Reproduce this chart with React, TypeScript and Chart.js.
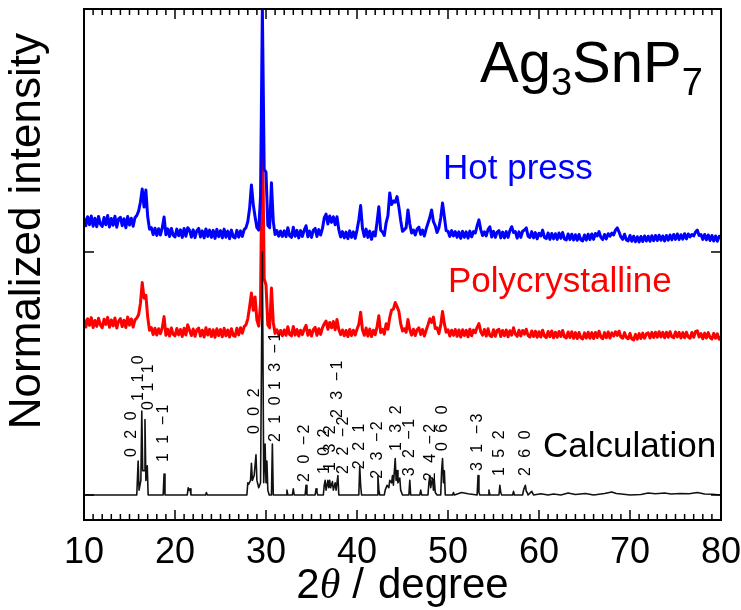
import React, { useEffect, useRef } from 'react';
import { Chart, registerables } from 'chart.js';

Chart.register(...registerables);

// ---- scan grid (2θ, degree) ----
const SCAN_START = 10;
const SCAN_STEP = 0.2;
const SCAN_COUNT = 351;
const twoTheta: number[] = Array.from({ length: SCAN_COUNT }, (_, i) => Math.round((SCAN_START + i * SCAN_STEP) * 10) / 10);

// ---- stacking offsets (normalized units) ----
const RED_OFFSET = 0.56;
const BLUE_OFFSET = 1.0;

// ---- Polycrystalline (normalized intensity, 10.0 → 80.0 step 0.2) ----
const polyIntensity: number[] = [
  0.162,0.131,0.165,0.138,0.170,0.129,0.158,0.134,0.167,0.140,
  0.128,0.163,0.142,0.171,0.130,0.160,0.136,0.168,0.127,0.155,
  0.166,0.133,0.159,0.129,0.172,0.139,0.164,0.131,0.161,0.168,
  0.182,0.228,0.314,0.250,0.262,0.172,0.118,0.129,0.100,0.126,
  0.098,0.124,0.104,0.128,0.174,0.097,0.122,0.094,0.127,0.101,
  0.095,0.125,0.099,0.121,0.092,0.126,0.098,0.140,0.118,0.096,
  0.123,0.093,0.120,0.127,0.094,0.118,0.090,0.128,0.098,0.122,
  0.092,0.120,0.089,0.124,0.096,0.121,0.091,0.126,0.095,0.119,
  0.090,0.124,0.097,0.093,0.126,0.099,0.128,0.106,0.133,0.140,
  0.165,0.215,0.271,0.200,0.255,0.160,0.135,0.230,1.000,0.330,
  0.304,0.140,0.128,0.292,0.150,0.105,0.120,0.098,0.117,0.095,
  0.119,0.097,0.132,0.100,0.095,0.133,0.098,0.121,0.094,0.118,
  0.100,0.122,0.138,0.097,0.118,0.094,0.120,0.130,0.097,0.124,
  0.101,0.128,0.144,0.156,0.122,0.150,0.128,0.154,0.120,0.162,
  0.121,0.100,0.119,0.095,0.117,0.092,0.121,0.096,0.118,0.098,
  0.122,0.142,0.192,0.120,0.097,0.127,0.094,0.123,0.092,0.118,
  0.100,0.132,0.178,0.108,0.122,0.102,0.145,0.122,0.170,0.202,
  0.205,0.232,0.215,0.196,0.145,0.115,0.124,0.110,0.162,0.120,
  0.098,0.122,0.096,0.120,0.128,0.100,0.121,0.094,0.118,0.140,
  0.165,0.150,0.172,0.125,0.128,0.104,0.138,0.195,0.145,0.110,
  0.120,0.094,0.118,0.097,0.121,0.093,0.119,0.090,0.120,0.096,
  0.118,0.091,0.122,0.095,0.119,0.108,0.130,0.145,0.112,0.098,
  0.121,0.094,0.124,0.096,0.091,0.120,0.093,0.118,0.122,0.092,
  0.117,0.095,0.119,0.091,0.116,0.098,0.128,0.102,0.093,0.118,
  0.094,0.117,0.102,0.122,0.096,0.090,0.115,0.092,0.114,0.089,
  0.112,0.090,0.118,0.094,0.088,0.113,0.091,0.115,0.087,0.110,
  0.089,0.113,0.092,0.117,0.091,0.086,0.111,0.088,0.112,0.085,
  0.108,0.084,0.109,0.087,0.082,0.107,0.086,0.110,0.085,0.108,
  0.084,0.109,0.088,0.114,0.090,0.083,0.108,0.087,0.111,0.086,
  0.107,0.094,0.112,0.097,0.114,0.090,0.085,0.108,0.088,0.083,
  0.105,0.082,0.078,0.101,0.081,0.104,0.084,0.106,0.085,0.103,
  0.107,0.086,0.109,0.088,0.110,0.089,0.112,0.090,0.109,0.087,
  0.110,0.089,0.112,0.091,0.087,0.111,0.090,0.109,0.086,0.108,
  0.087,0.110,0.090,0.085,0.109,0.089,0.112,0.116,0.090,0.104,
  0.083,0.106,0.086,0.108,0.088,0.082,0.105,0.085,0.103,0.081,
  0.090,
];

// ---- Hot press (normalized intensity, 10.0 → 80.0 step 0.2) ----
const hotPressIntensity: number[] = [
  0.140,0.108,0.145,0.112,0.148,0.106,0.139,0.104,0.146,0.115,
  0.105,0.142,0.112,0.150,0.103,0.138,0.110,0.147,0.102,0.136,
  0.143,0.108,0.137,0.100,0.146,0.111,0.139,0.106,0.141,0.150,
  0.168,0.205,0.259,0.185,0.255,0.145,0.094,0.100,0.072,0.098,
  0.068,0.096,0.070,0.099,0.144,0.071,0.095,0.064,0.097,0.069,
  0.062,0.094,0.067,0.091,0.060,0.097,0.065,0.100,0.090,0.061,
  0.091,0.059,0.088,0.097,0.062,0.087,0.058,0.095,0.064,0.090,
  0.060,0.089,0.056,0.093,0.063,0.088,0.058,0.094,0.061,0.086,
  0.055,0.090,0.062,0.058,0.089,0.061,0.087,0.064,0.092,0.100,
  0.125,0.180,0.276,0.195,0.145,0.100,0.090,0.230,1.000,0.340,
  0.329,0.110,0.100,0.285,0.125,0.072,0.088,0.065,0.086,0.064,
  0.087,0.063,0.100,0.066,0.060,0.102,0.065,0.089,0.058,0.088,
  0.064,0.090,0.108,0.063,0.086,0.060,0.089,0.097,0.064,0.092,
  0.070,0.096,0.140,0.156,0.115,0.148,0.122,0.145,0.112,0.145,
  0.092,0.062,0.084,0.058,0.082,0.055,0.087,0.060,0.083,0.056,
  0.090,0.132,0.191,0.098,0.064,0.094,0.060,0.086,0.052,0.082,
  0.066,0.122,0.186,0.090,0.082,0.068,0.120,0.150,0.243,0.195,
  0.210,0.205,0.228,0.185,0.130,0.085,0.092,0.100,0.173,0.115,
  0.078,0.090,0.070,0.094,0.102,0.072,0.090,0.066,0.095,0.118,
  0.142,0.173,0.125,0.108,0.080,0.100,0.140,0.202,0.145,0.088,
  0.085,0.064,0.088,0.066,0.084,0.060,0.083,0.056,0.085,0.060,
  0.083,0.057,0.086,0.062,0.084,0.078,0.108,0.132,0.092,0.068,
  0.083,0.066,0.092,0.104,0.062,0.085,0.060,0.082,0.088,0.058,
  0.082,0.058,0.084,0.060,0.088,0.104,0.080,0.084,0.057,0.083,
  0.060,0.085,0.090,0.099,0.065,0.060,0.084,0.058,0.080,0.054,
  0.077,0.066,0.090,0.060,0.055,0.078,0.052,0.076,0.054,0.075,
  0.052,0.078,0.056,0.080,0.053,0.050,0.074,0.051,0.073,0.049,
  0.071,0.048,0.072,0.050,0.046,0.070,0.049,0.073,0.051,0.074,
  0.052,0.076,0.066,0.084,0.060,0.051,0.072,0.054,0.075,0.065,
  0.078,0.070,0.090,0.099,0.082,0.062,0.052,0.073,0.050,0.046,
  0.068,0.044,0.065,0.042,0.063,0.041,0.064,0.043,0.066,0.045,
  0.065,0.044,0.067,0.046,0.068,0.047,0.069,0.048,0.066,0.045,
  0.068,0.048,0.070,0.050,0.072,0.052,0.074,0.051,0.071,0.053,
  0.075,0.054,0.074,0.062,0.072,0.066,0.082,0.090,0.068,0.072,
  0.052,0.072,0.050,0.070,0.047,0.068,0.045,0.066,0.044,0.065,
  0.058,
];

// ---- Calculated pattern: 2θ and intensity ----
const calcAngle: number[] = [
  10, 15.8, 15.95, 16.05, 16.25, 16.35, 16.45, 16.6, 16.7, 16.8, 16.95, 17.05,
  18.7, 18.8, 18.9, 21.35, 21.45, 21.55, 21.65, 21.75, 23.35, 23.45, 23.55,
  27.9, 28.0, 28.1, 28.3, 28.4, 28.5, 28.7, 28.9, 29.0, 29.2, 29.4, 29.6, 29.75, 29.9, 30.0, 30.1, 30.2, 30.35,
  30.6, 30.7, 30.8, 32.2, 32.3, 32.4, 32.9, 33.0, 33.1, 34.3, 34.4, 34.5, 35.4, 35.5, 35.6, 35.7,
  36.3, 36.4, 36.5, 36.6, 36.8, 36.9, 37.0, 37.1, 37.3, 37.4, 37.6, 37.7, 37.9, 38.0,
  40.2, 40.3, 40.4, 40.5, 42.2, 42.3, 42.4, 42.5,
  43.0, 43.1, 43.3, 43.5, 43.6, 43.8, 43.9, 44.0, 44.2, 44.3, 44.4, 44.5, 44.7, 44.8, 45.0,
  45.7, 45.8, 45.9, 46.9, 47.0, 47.1, 47.8, 47.9, 48.0, 48.1, 48.3, 48.4, 48.5, 48.6, 48.8,
  49.2, 49.3, 49.4, 49.5, 49.6, 49.7, 50.5, 50.6, 50.7, 51.5, 52.2, 53.2, 53.3, 53.4, 53.5,
  54.4, 54.5, 54.6, 55.6, 55.7, 55.8, 55.9, 57.1, 57.2, 57.3, 58.2, 58.3, 58.5, 58.6, 58.7, 58.8,
  59.2, 59.4, 60.2, 61.0, 61.6, 62.4, 63.2, 64.0, 65.1, 66.0, 67.2, 68.0, 68.5, 69.3, 70.0,
  71.2, 72.0, 72.8, 73.8, 74.5, 75.5, 76.5, 77.4, 78.2, 79.0, 80.0,
];
const calcIntensity: number[] = [
  0, 0, 0.14, 0.02, 0.06, 0.345, 0.10, 0.10, 0.31, 0.06, 0.12, 0,
  0, 0.086, 0, 0, 0.03, 0.02, 0.025, 0, 0, 0.01, 0,
  0, 0.05, 0.045, 0.06, 0.13, 0.06, 0.08, 0.165, 0.06, 0.03, 0.05, 1.0, 0.05, 0.21, 0.05, 0.14, 0.02, 0,
  0, 0.21, 0, 0, 0.02, 0, 0, 0.025, 0, 0, 0.04, 0, 0, 0.025, 0.01, 0,
  0, 0.04, 0.06, 0.02, 0.06, 0.03, 0.06, 0.03, 0.055, 0.02, 0.05, 0.02, 0.08, 0,
  0, 0.117, 0.04, 0, 0, 0.078, 0.02, 0,
  0, 0.02, 0.04, 0.03, 0.06, 0.05, 0.08, 0.04, 0.15, 0.06, 0.10, 0.05, 0.07, 0.02, 0,
  0, 0.06, 0, 0, 0.02, 0, 0, 0.05, 0.08, 0.03, 0.07, 0.02, 0.06, 0.01, 0,
  0, 0.10, 0.15, 0.05, 0.10, 0, 0, 0.01, 0, 0.01, 0.005, 0, 0.08, 0.01, 0,
  0, 0.02, 0, 0, 0.04, 0.01, 0, 0, 0.015, 0, 0, 0.02, 0.04, 0.015, 0.01, 0,
  0.015, 0, 0.005, 0, 0.004, 0, 0.008, 0.002, 0.006, 0, 0.006, 0.012, 0.006, 0.003, 0,
  0.002, 0.008, 0.005, 0.008, 0.004, 0.006, 0.005, 0.01, 0.004, 0.003, 0,
];

// ---- Miller-index labels of the calculated pattern ----
const hklText: string[] = [
  '0 2 0', '1 1 0', '0 1 1', '1 1 −1', '0 0 2', '2 1 0', '1 3 −1', '2 0 −2',
  '1 0 2', '1 3 2', '2 3 −1', '2 2 −2', '2 2 1', '2 3 −2', '1 3 2', '3 2 −1',
  '2 4 −2', '0 6 0', '3 1 −3', '1 5 2', '2 6 0',
];
const hklAngle: number[] = [
  15.24, 15.97, 17.07, 18.79, 28.79, 31.0, 31.0, 34.29,
  36.48, 37.14, 37.85, 38.5, 40.33, 42.31, 44.3, 45.82,
  48.1, 49.38, 53.2, 55.7, 58.57,
];
const hklLevel: number[] = [
  0.255, 0.486, 0.449, 0.259, 0.35, 0.317, 0.555, 0.177,
  0.185, 0.198, 0.44, 0.21, 0.205, 0.19, 0.28, 0.20,
  0.18, 0.28, 0.222, 0.177, 0.177,
];

// ---- axis ticks ----
const X_MIN = 10;
const X_MAX = 80;
const X_MAJOR = [10, 20, 30, 40, 50, 60, 70, 80];
const X_TICK_LABELS = ['10', '20', '30', '40', '50', '60', '70', '80'];
const Y_MIN = -0.103;
const Y_MAX = 2.0;
const Y_TICKS = [0, 1, 2];

const SANS = '"Liberation Sans", Arial, sans-serif';

const decorPlugin = {
  id: 'decor',
  afterDatasetsDraw(chart: any) {
    const { ctx, chartArea: a, scales } = chart;
    const x = scales.x;
    const y = scales.y;
    ctx.save();
    ctx.strokeStyle = '#000';
    const line = (x1: number, y1: number, x2: number, y2: number) => {
      ctx.beginPath();
      ctx.moveTo(x1, y1);
      ctx.lineTo(x2, y2);
      ctx.stroke();
    };
    // ticks (inside)
    ctx.lineWidth = 1.5;
    for (let v = X_MIN; v <= X_MAX; v += 1) {
      const px = x.getPixelForValue(v);
      const len = X_MAJOR.includes(v) ? 10 : 6;
      line(px, a.bottom, px, a.bottom - len);
      line(px, a.top, px, a.top + len);
    }
    for (const v of Y_TICKS) {
      const py = y.getPixelForValue(v);
      line(a.left, py, a.left + 10, py);
      line(a.right, py, a.right - 10, py);
    }
    // frame
    ctx.lineWidth = 2;
    ctx.strokeRect(a.left, a.top, a.right - a.left, a.bottom - a.top);

    // x tick labels
    ctx.fillStyle = '#000';
    ctx.font = `36px ${SANS}`;
    ctx.textAlign = 'center';
    ctx.textBaseline = 'alphabetic';
    X_MAJOR.forEach((v, i) => {
      ctx.fillText(X_TICK_LABELS[i], x.getPixelForValue(v), a.bottom + 43);
    });

    // hkl labels
    ctx.font = `16px ${SANS}`;
    (ctx as any).letterSpacing = '2.5px';
    ctx.textAlign = 'center';
    ctx.textBaseline = 'middle';
    hklText.forEach((t, i) => {
      const px = x.getPixelForValue(hklAngle[i]);
      const py = y.getPixelForValue(hklLevel[i]);
      ctx.save();
      ctx.translate(px, py);
      ctx.rotate(-Math.PI / 2);
      ctx.fillText(t, 0, 0);
      ctx.restore();
    });
    (ctx as any).letterSpacing = '0px';

    // series names
    ctx.textAlign = 'left';
    ctx.textBaseline = 'alphabetic';
    ctx.font = `35px ${SANS}`;
    ctx.fillStyle = '#0000ff';
    ctx.fillText('Hot press', x.getPixelForValue(49.45), y.getPixelForValue(1.30));
    ctx.fillStyle = '#ff0000';
    ctx.fillText('Polycrystalline', x.getPixelForValue(50.0), y.getPixelForValue(0.835));
    ctx.fillStyle = '#000';
    ctx.fillText('Calculation', x.getPixelForValue(60.44), y.getPixelForValue(0.155));

    // compound formula Ag3SnP7
    let fx = x.getPixelForValue(53.52);
    const fy = y.getPixelForValue(1.70);
    const parts: [string, boolean][] = [['Ag', false], ['3', true], ['SnP', false], ['7', true]];
    for (const [t, sub] of parts) {
      ctx.font = sub ? `38px ${SANS}` : `58px ${SANS}`;
      ctx.fillText(t, fx, fy + (sub ? 13 : 0));
      fx += ctx.measureText(t).width;
    }

    // y-axis title
    ctx.save();
    ctx.font = `44px ${SANS}`;
    ctx.textAlign = 'center';
    ctx.textBaseline = 'middle';
    ctx.translate(28, y.getPixelForValue(1.086));
    ctx.rotate(-Math.PI / 2);
    ctx.fillText('Normalized intensity', 0, 0);
    ctx.restore();

    // x-axis title: 2θ / degree
    const titleParts: [string, string, number][] = [
      ['2', `42px ${SANS}`, 0],
      ['θ', `italic 42px "Liberation Serif", serif`, 12],
      ['/', `42px ${SANS}`, 14],
      ['degree', `42px ${SANS}`, 0],
    ];
    let total = 0;
    for (const [t, f, gap] of titleParts) { ctx.font = f; total += ctx.measureText(t).width + gap; }
    let tx = (a.left + a.right) / 2 - total / 2;
    const ty = a.bottom + 78;
    ctx.textAlign = 'left';
    for (const [t, f, gap] of titleParts) {
      ctx.font = f;
      ctx.fillText(t, tx, ty);
      tx += ctx.measureText(t).width + gap;
    }
    ctx.restore();
  },
};

export default function App() {
  const ref = useRef<HTMLCanvasElement | null>(null);
  useEffect(() => {
    if (!ref.current) return;
    const poly = twoTheta.map((t, i) => ({ x: t, y: polyIntensity[i] + RED_OFFSET }));
    const hot = twoTheta.map((t, i) => ({ x: t, y: hotPressIntensity[i] + BLUE_OFFSET }));
    const calc = calcAngle.map((t, i) => ({ x: t, y: calcIntensity[i] }));
    const common = { pointRadius: 0, tension: 0, borderJoinStyle: 'round' as const, borderCapStyle: 'round' as const };
    const chart = new Chart(ref.current, {
      type: 'line',
      data: {
        datasets: [
          { label: 'Hot press', data: hot, borderColor: '#0000ff', borderWidth: 3, order: 1, ...common },
          { label: 'Calculation', data: calc, borderColor: '#111', borderWidth: 1.6, order: 2, ...common },
          { label: 'Polycrystalline', data: poly, borderColor: '#ff0000', borderWidth: 3, order: 3, ...common },
        ],
      },
      options: {
        responsive: false,
        animation: false,
        layout: { padding: { left: 84, right: 20, top: 9, bottom: 90 } },
        plugins: { legend: { display: false }, tooltip: { enabled: false } },
        scales: {
          x: { type: 'linear', display: false, min: X_MIN, max: X_MAX },
          y: { type: 'linear', display: false, min: Y_MIN, max: Y_MAX },
        },
      },
      plugins: [decorPlugin],
    });
    return () => chart.destroy();
  }, []);
  return (
    <div style={{ position: 'absolute', left: 0, top: 0, width: 741, height: 610, background: '#fff' }}>
      <canvas ref={ref} width={741} height={610} />
    </div>
  );
}
